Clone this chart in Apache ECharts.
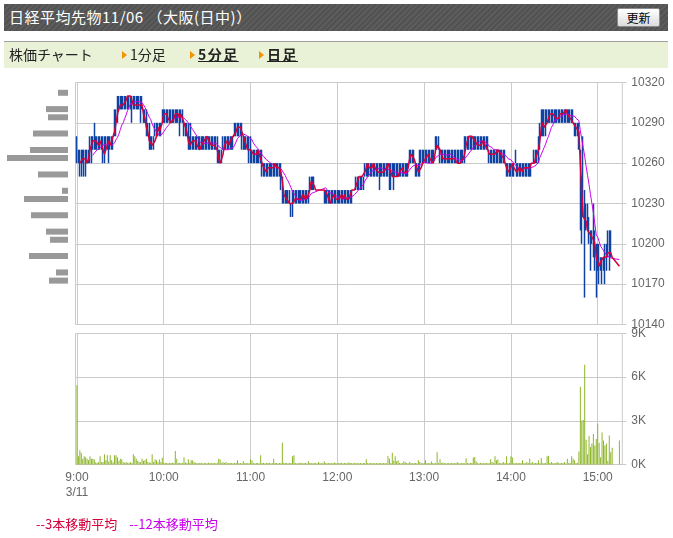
<!DOCTYPE html>
<html><head><meta charset="utf-8">
<script src="https://cdn.jsdelivr.net/npm/echarts@6/dist/echarts.min.js"></script>
<style>
html,body{margin:0;padding:0;background:#fff;}
body{width:673px;height:538px;overflow:hidden;position:relative;font-family:"Noto Sans CJK JP",sans-serif;}
#chart{position:absolute;left:0;top:0;width:673px;height:538px;}
#head{position:absolute;left:4px;top:4px;width:664px;height:27px;background:repeating-linear-gradient(135deg,#5c5c5c 0px,#5c5c5c 2px,#525252 2px,#525252 4px);}
#title{position:absolute;left:5px;top:3px;color:#fff;font-size:15px;line-height:20px;white-space:nowrap;letter-spacing:0.5px;}
#btn{position:absolute;left:613px;top:4px;width:41px;height:17px;background:linear-gradient(#ffffff,#dcdcdc);border:1px solid #8a8a8a;border-radius:2px;font-size:12px;line-height:17px;text-align:center;color:#000;}
#tabs{position:absolute;left:4px;top:41px;width:664px;height:26px;background:#e9f1d6;border-top:1px solid #a0a0a0;font-size:14px;color:#222;}
#tabs span{position:absolute;top:2px;line-height:20px;white-space:nowrap;}
#tabs .b{font-weight:bold;text-decoration:underline;letter-spacing:1.5px;}
#tabs i{position:absolute;top:9px;width:0;height:0;border-left:5px solid #f29400;border-top:4px solid transparent;border-bottom:4px solid transparent;}
</style></head>
<body>
<div id="chart"></div>
<div id="head"><div id="title">日経平均先物11/06 （大阪(日中)）</div><div id="btn">更新</div></div>
<div id="tabs">
<span style="left:5px">株価チャート</span>
<i style="left:118px"></i><span style="left:126px">1分足</span>
<i style="left:186px"></i><span class="b" style="left:194px">5分足</span>
<i style="left:255px"></i><span class="b" style="left:263px">日足</span>
</div>
<script>
// ---- data (one value per minute from 9:00; null = no trade) ----
const highs = [
10280,10270,10270,10270,10270,10270,10270,10270,10270,10280,
10280,10280,10290,10280,10280,10280,10280,10280,10280,10280,
10280,10280,10280,10280,10280,10280,10300,10300,10310,10310,
10310,10310,10310,10310,10310,10310,10310,10310,10310,10310,
10310,10310,10310,10310,10310,10310,10300,10300,10300,10290,
10290,10280,10280,10280,10290,10290,10290,10290,10290,10300,
10300,10300,10300,10300,10300,10300,10300,10300,10300,10300,
10300,10300,10300,10300,10290,10290,10290,10290,10280,10290,
10280,10280,10280,10280,10280,10280,10280,10280,10280,10280,
10280,10280,10280,10280,10280,10280,10280,10280,10270,10270,
10270,10280,10280,10280,10280,10280,10280,10280,10280,10290,
10290,10290,10290,10290,10290,10280,10280,10280,10280,10280,
10280,10270,10270,10270,10270,10270,10270,10270,10270,10260,
10260,10260,10260,10260,10260,10260,10260,10260,10260,10260,
10260,10260,10250,10240,10240,10240,10240,10240,10230,10240,
10240,10240,10240,10240,10240,10240,10240,10240,10240,10240,
10240,10250,10250,10250,10250,10240,10240,10240,10240,10240,
10240,10240,10240,10240,10240,10240,10240,10240,10240,10240,
10240,10240,10240,10240,10240,10240,10240,10240,10240,10240,
10240,10240,10240,10250,10250,10250,10250,10250,10250,10260,
10260,10260,10260,10260,10260,10260,10260,10260,10260,10260,
10260,10260,10260,10260,10260,10260,10260,10260,10260,10260,
10260,10260,10260,10260,10260,10260,10260,10260,10260,10260,
10270,10270,10270,10270,10260,10260,10260,10270,10270,10270,
10270,10270,10270,10270,10270,10270,10270,10270,10280,10280,
10280,10270,10270,10270,10270,10270,10270,10270,10270,10270,
10270,10270,10270,10270,10270,10270,10270,10270,10280,10280,
10280,10280,10280,10280,10280,10280,10280,10280,10280,10280,
10280,10280,10280,10280,10280,10270,10270,10270,10270,10270,
10270,10270,10270,10270,10270,10270,10270,10260,10260,10260,
10260,10260,10260,10270,10260,10260,10260,10260,10260,10260,
10260,10260,10260,10260,10260,10260,10270,10270,10270,10280,
10290,10300,10300,10300,10300,10300,10300,10300,10300,10300,
10300,10300,10300,10300,10300,10300,10300,10300,10300,10300,
10300,10300,10300,10300,10290,10290,10290,10290,10270,10250,
10280,10240,10230,10230,10220,10210,10210,10230,10210,10200,
10200,10200,10190,10190,10190,10200,10200,10210,10210,10210,
10190,null,null,null,null,10170
];
const lows = [
10260,10260,10250,10250,10260,10250,10250,10260,10260,10260,
10260,10270,10270,10270,10270,10270,10270,10270,10260,10260,
10270,10270,10260,10270,10270,10270,10280,10280,10290,10300,
10300,10300,10300,10300,10300,10300,10300,10300,10290,10300,
10300,10300,10300,10300,10290,10300,10290,10290,10280,10280,
10270,10270,10270,10270,10280,10280,10280,10280,10280,10290,
10290,10290,10290,10290,10290,10290,10290,10290,10290,10290,
10290,10280,10290,10290,10280,10280,10280,10270,10270,10270,
10270,10270,10270,10270,10270,10270,10270,10270,10270,10270,
10270,10270,10270,10270,10270,10270,10270,10260,10260,10260,
10260,10270,10270,10270,10270,10270,10270,10270,10270,10280,
10280,10280,10280,10280,10270,10270,10270,10270,10270,10260,
10260,10260,10260,10260,10260,10260,10260,10260,10250,10250,
10250,10250,10250,10250,10250,10250,10250,10250,10250,10250,
10250,10240,10230,10230,10230,10230,10230,10230,10220,10220,
10230,10230,10230,10230,10230,10230,10230,10230,10230,10230,
10230,10240,10240,10240,10240,10240,10240,10240,10240,10240,
10240,10230,10230,10230,10230,10230,10230,10230,10230,10230,
10230,10230,10230,10230,10230,10230,10230,10230,10230,10230,
10230,10240,10240,10240,10240,10240,10240,10240,10240,10250,
10250,10250,10250,10250,10250,10250,10250,10250,10250,10240,
10250,10250,10250,10250,10250,10250,10240,10240,10250,10240,
10250,10250,10250,10250,10250,10250,10250,10250,10250,10250,
10260,10260,10260,10260,10250,10250,10250,10250,10260,10260,
10260,10260,10260,10260,10260,10260,10260,10260,10270,10270,
10270,10260,10260,10260,10260,10260,10260,10260,10260,10260,
10260,10260,10260,10260,10260,10260,10260,10260,10260,10270,
10270,10270,10270,10270,10270,10270,10270,10270,10270,10270,
10270,10270,10270,10270,10270,10260,10260,10260,10260,10260,
10260,10260,10260,10260,10260,10260,10260,10250,10250,10250,
10250,10250,10250,10260,10250,10250,10250,10250,10250,10250,
10250,10250,10250,10250,10250,10260,10260,10260,10260,10260,
10270,10280,10280,10280,10280,10290,10290,10290,10290,10290,
10290,10290,10290,10290,10290,10290,10290,10290,10290,10290,
10290,10290,10290,10290,10280,10280,10280,10270,10210,10200,
10220,10160,10210,10210,10200,10180,10200,10190,10180,10160,
10180,10170,10180,10170,10180,10170,10180,10190,10180,10190,
10190,null,null,null,null,10170
];
const closes = [
10260,10260,10260,10260,10270,10260,10260,10260,10270,10280,
10270,10280,10280,10270,10280,10270,10280,10270,10270,10260,
10280,10270,10280,10270,10280,10280,10290,10300,10300,10300,
10310,10300,10300,10310,10310,10310,10310,10310,10300,10300,
10310,10300,10300,10310,10300,10300,10290,10290,10280,10280,
10270,10280,10270,10270,10290,10280,10290,10280,10290,10300,
10300,10290,10300,10290,10290,10290,10290,10300,10300,10290,
10300,10290,10300,10290,10290,10280,10280,10270,10270,10280,
10280,10270,10280,10270,10270,10270,10280,10270,10280,10280,
10280,10270,10280,10270,10270,10280,10270,10260,10260,10260,
10270,10270,10280,10270,10280,10270,10280,10280,10280,10280,
10290,10290,10280,10290,10280,10280,10270,10270,10270,10270,
10270,10270,10260,10270,10270,10270,10260,10260,10260,10250,
10260,10250,10260,10260,10250,10260,10260,10260,10250,10260,
10260,10240,10240,10230,10240,10230,10230,10230,10230,10230,
10230,10240,10230,10230,10240,10230,10240,10230,10240,10230,
10240,10250,10250,10240,10240,10240,10240,10240,10240,10240,
10240,10240,10240,10230,10230,10230,10240,10230,10240,10230,
10230,10240,10230,10240,10230,10240,10230,10230,10240,10240,
10240,10240,10240,10250,10250,10250,10250,10250,10250,10260,
10260,10260,10250,10260,10260,10260,10250,10260,10250,10250,
10260,10250,10250,10260,10260,10260,10250,10250,10250,10250,
10250,10250,10250,10260,10250,10260,10250,10250,10260,10260,
10270,10270,10260,10260,10260,10250,10250,10260,10260,10260,
10260,10270,10260,10270,10260,10260,10260,10270,10280,10270,
10270,10270,10260,10260,10270,10260,10260,10270,10260,10260,
10270,10260,10260,10260,10260,10260,10260,10270,10270,10280,
10280,10280,10280,10280,10280,10270,10280,10270,10270,10280,
10270,10280,10270,10270,10270,10260,10270,10270,10260,10270,
10270,10270,10270,10260,10270,10260,10260,10250,10250,10260,
10260,10260,10250,10260,10250,10260,10250,10260,10250,10260,
10260,10250,10260,10260,10260,10260,10260,10270,10260,10280,
10290,10290,10290,10280,10290,10300,10290,10300,10300,10290,
10300,10290,10290,10300,10300,10290,10300,10300,10300,10290,
10300,10290,10290,10290,10290,10280,10290,10280,10210,10220,
10230,10210,10210,10210,10210,10200,10210,10200,10190,10180,
10190,10180,10190,10190,10190,10190,10190,10200,10190,10190,
10190,null,null,null,null,10170
];
const volumes = [
5450,570,980,800,400,570,500,400,300,570,
400,400,340,150,110,180,570,150,180,700,
300,640,200,640,300,150,640,640,500,250,
400,360,150,120,180,100,120,150,100,700,
570,400,250,180,150,400,250,300,400,180,
140,120,700,180,340,300,150,340,180,460,
100,120,100,90,110,100,120,100,920,400,
100,120,90,100,500,140,110,360,120,300,
300,180,100,110,90,120,100,80,110,100,
90,120,100,90,110,100,90,120,400,340,
110,180,100,180,90,110,100,110,90,100,
120,300,100,110,90,230,100,110,90,100,
360,270,100,90,110,100,90,640,110,100,
90,110,100,120,90,100,400,110,100,90,
110,100,1500,120,100,110,90,100,110,570,
640,100,90,110,100,120,90,100,110,90,
230,100,110,90,100,110,90,180,100,90,
110,230,100,90,110,100,90,100,140,100,
90,110,100,120,90,100,110,90,150,100,
110,90,120,100,90,110,100,90,110,100,
360,100,90,110,100,90,110,100,90,110,
100,90,110,100,90,570,400,110,800,250,
570,230,300,100,90,110,230,160,100,90,
180,100,90,110,100,90,300,180,100,90,
110,300,100,90,110,200,100,90,110,850,
100,360,110,140,100,90,110,100,90,110,
100,90,110,160,100,90,110,100,90,430,
100,90,110,100,480,520,230,100,90,110,
100,90,110,100,90,110,360,180,100,570,
300,340,100,90,110,180,100,570,90,110,
570,480,100,90,110,100,90,110,300,100,
90,180,100,400,110,180,90,100,110,300,
100,450,110,90,100,570,600,110,180,100,
90,110,180,100,90,110,100,180,90,400,
110,100,570,400,300,110,100,900,5350,3000,
3050,6850,1700,700,1950,1200,1450,2100,1300,1750,
2800,1500,500,2200,1650,1300,1450,250,2000,850,
1150,null,null,null,null,1650
];
// volume by price (top bin = highest price), 24 bins
const priceVolume = [10,0,22,20,0,35,0,38,61,0,30,0,6,44,0,37,0,22,18,0,39,0,12,19];
const timeLabels = ['9:00','10:00','11:00','12:00','13:00','14:00','15:00'];
const dateLabel = '3/11';
const startHour = 9, firstMinute = -1, lastMinute = 377;

// ---- build ----
const cats = [];
for (let m = firstMinute; m <= lastMinute; m++) {
  const t = startHour * 60 + m;
  cats.push(Math.floor(t / 60) + ':' + String(t % 60).padStart(2, '0'));
}
const pad = arr => { const out = []; for (let m = firstMinute; m <= lastMinute; m++) { const v = (m >= 0 && m < arr.length) ? arr[m] : null; out.push(v); } return out; };
function movingAvg(vals, n) {
  const out = [], buf = [];
  for (const v of vals) {
    if (v == null) { out.push(null); continue; }
    buf.push(v); if (buf.length > n) buf.shift();
    out.push(buf.length === n ? +(buf.reduce((a, b) => a + b, 0) / n).toFixed(2) : null);
  }
  return out;
}
const H = pad(highs), L = pad(lows), C = pad(closes), V = pad(volumes);
const candle = C.map((c, i) => c == null ? '-' : [c, c, L[i], H[i]]);
const ma3 = movingAvg(C, 3), ma12 = movingAvg(C, 12);
const isHour = (i, v) => timeLabels.indexOf(v) >= 0;

const RED = '#d6003c', MAG = '#cc00ee', BLUE = '#0f42a2', GRID = '#cbcbcb';
const lblFont = {color: '#666', fontSize: 12, fontFamily: 'Liberation Sans'};
const chart = echarts.init(document.getElementById('chart'));
chart.setOption({
  animation: false,
  grid: [
    {left: 75.5, top: 82.5, width: 546.8, height: 242, show: true, borderColor: GRID, borderWidth: 1},
    {left: 75.5, top: 333.5, width: 546.8, height: 131, show: true, borderColor: GRID, borderWidth: 1},
    {left: 7, top: 88.7, width: 61, height: 196}
  ],
  legend: {
    left: 26, top: 513, icon: 'none', itemWidth: 0, itemHeight: 13, itemGap: 7,
    formatter: '--{name}', selectedMode: false,
    textStyle: {fontSize: 13, fontFamily: 'Noto Sans CJK JP'},
    data: [{name: '3本移動平均', textStyle: {color: RED}}, {name: '12本移動平均', textStyle: {color: MAG}}]
  },
  xAxis: [
    {type: 'category', gridIndex: 0, data: cats, boundaryGap: false,
     axisLine: {show: false}, axisTick: {show: false}, axisLabel: {show: false},
     splitLine: {show: true, interval: isHour, lineStyle: {color: GRID}}},
    {type: 'category', gridIndex: 1, data: cats, boundaryGap: false,
     axisLine: {show: false}, axisTick: {show: false},
     axisLabel: Object.assign({interval: isHour, margin: 6, lineHeight: 15,
       formatter: v => v === timeLabels[0] ? v + '\n' + dateLabel : v}, lblFont),
     splitLine: {show: true, interval: isHour, lineStyle: {color: GRID}}},
    {type: 'value', gridIndex: 2, inverse: true, min: 0, max: 61, show: false}
  ],
  yAxis: [
    {type: 'value', gridIndex: 0, position: 'right', min: 10140, max: 10320, interval: 30, scale: true,
     axisLine: {show: false}, axisTick: {show: true, length: 4, lineStyle: {color: GRID}},
     axisLabel: Object.assign({margin: 9, formatter: v => String(v)}, lblFont),
     splitLine: {lineStyle: {color: GRID}}},
    {type: 'value', gridIndex: 1, position: 'right', min: 0, max: 9000, interval: 3000,
     axisLine: {show: false}, axisTick: {show: true, length: 4, lineStyle: {color: GRID}},
     axisLabel: Object.assign({margin: 9, formatter: v => (v / 1000) + 'K'}, lblFont),
     splitLine: {lineStyle: {color: GRID}}},
    {type: 'category', gridIndex: 2, inverse: true, show: false, data: priceVolume.map((v, i) => 'b' + i)}
  ],
  series: [
    {type: 'candlestick', name: 'price', xAxisIndex: 0, yAxisIndex: 0, data: candle, barWidth: 1,
     itemStyle: {color: BLUE, color0: BLUE, borderColor: BLUE, borderColor0: BLUE, borderWidth: 1.5}},
    {type: 'line', name: '12本移動平均', xAxisIndex: 0, yAxisIndex: 0, data: ma12, showSymbol: false, symbol: 'none',
     connectNulls: true, lineStyle: {color: MAG, width: 1}, itemStyle: {color: MAG}, z: 3},
    {type: 'line', name: '3本移動平均', xAxisIndex: 0, yAxisIndex: 0, data: ma3, showSymbol: false, symbol: 'none',
     connectNulls: true, lineStyle: {color: RED, width: 1.5}, itemStyle: {color: RED}, z: 4},
    {type: 'bar', name: 'volume', xAxisIndex: 1, yAxisIndex: 1, data: V, barWidth: 1,
     itemStyle: {color: '#8db62a'}},
    {type: 'bar', name: 'pricevol', xAxisIndex: 2, yAxisIndex: 2, data: priceVolume, barWidth: 6,
     itemStyle: {color: '#999999'}}
  ]
});
</script>
</body></html>
